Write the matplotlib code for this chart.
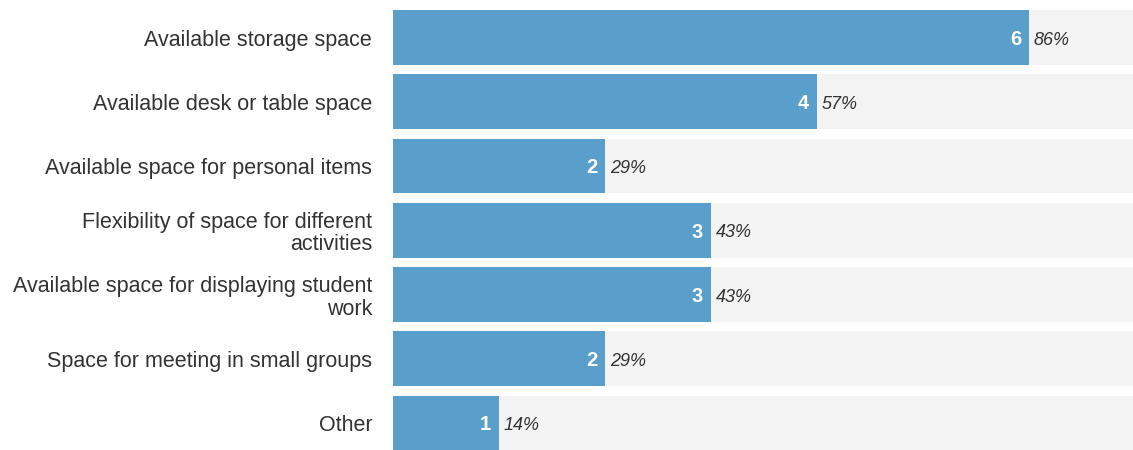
import matplotlib
matplotlib.use("Agg")
import matplotlib.pyplot as plt

# survey data: counts out of 7 respondents
categories = [
    "Available storage space",
    "Available desk or table space",
    "Available space for personal items",
    "Flexibility of space for different\nactivities",
    "Available space for displaying student\nwork",
    "Space for meeting in small groups",
    "Other",
]
counts = [6, 4, 2, 3, 3, 2, 1]
percents = ["86%", "57%", "29%", "43%", "43%", "29%", "14%"]
total = 7

plt.rcParams['font.family'] = ['Liberation Sans', 'DejaVu Sans']

fig = plt.figure(figsize=(11.33, 4.5), dpi=100)
ax = fig.add_axes([393 / 1133, 0.0, (1135 - 393) / 1133, 1.0])

y = list(range(len(categories)))
bar_h = 0.855

ax.barh(y, [total] * len(y), height=bar_h, color="#f3f3f3", linewidth=0)
ax.barh(y, counts, height=bar_h, color="#5a9ecb", linewidth=0)

for i, (c, p) in enumerate(zip(counts, percents)):
    ax.text(c - 0.075, i + 0.03, str(c), ha="right", va="center", color="white",
            fontsize=14.5, fontweight="bold")
    ax.text(c + 0.045, i + 0.04, p, ha="left", va="center", color="#333333",
            fontsize=13, style="italic")

ax.set_xlim(0, total)
ax.set_ylim(6.42, -0.584)
ax.set_yticks(y)
ax.set_yticklabels(categories, fontsize=15.5, color="#333333", ha="right",
                   linespacing=1.1)
ax.tick_params(axis="y", length=0, pad=15)
ax.set_xticks([])
for s in ax.spines.values():
    s.set_visible(False)

fig.savefig("out.png", dpi=100)
